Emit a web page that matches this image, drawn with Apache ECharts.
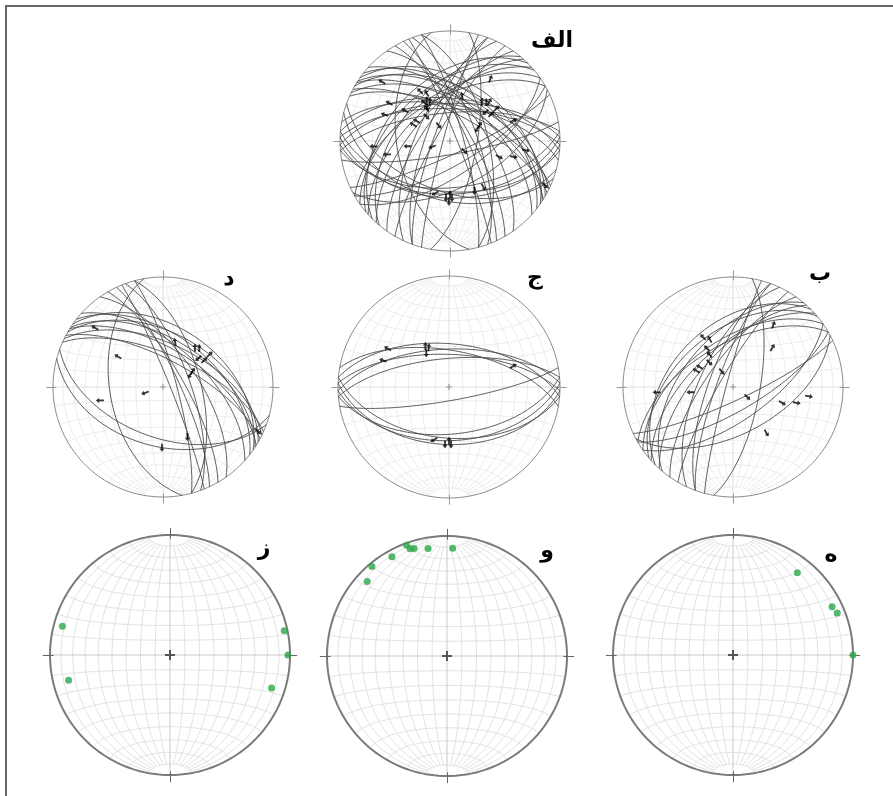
<!DOCTYPE html>
<html>
<head>
<meta charset="utf-8">
<script src="https://cdn.jsdelivr.net/npm/echarts@6/dist/echarts.min.js"></script>
<style>
  html, body { margin: 0; padding: 0; background: #fff; }
  #main { width: 893px; height: 796px; }
</style>
</head>
<body>
<div id="main"></div>
<script>
// fault planes [strike (right hand rule), dip]
var planesB = [[225,43],[230,48],[220,52],[235,55],[228,60],[222,64],[240,58],[215,70],[210,80],[200,72],[200,78],[205,65],[195,85],[10,70],[65,80],[60,72],[55,65],[62,55]];
var planesJ = [[275,58],[268,62],[272,66],[265,69],[280,63],[88,50],[95,52],[85,55],[92,47],[80,80]];
var planesD = [[300,50],[303,55],[296,58],[308,52],[302,62],[294,66],[312,60],[298,70],[305,45],[340,70],[345,62],[335,78],[330,75],[338,85],[345,80],[325,65],[170,50],[105,45],[110,52]];

// slip lineations [trend, plunge, slip sense azimuth]
var arrowsB = [[329,46,315],[334,50,330],[326,55,315],[324,60,320],[301,61,300],[294,60,300],[316,65,135],[324,76,140],[33,33,20],[45,48,30],[266,31,270],[263,58,270],[125,77,135],[108,51,120],[104,40,100],[97,31,100],[144,47,150]];
var arrowsJ = [[302,35,300],[292,36,290],[330,55,0],[333,57,5],[326,60,180],[72,39,60],[196,49,240],[184,47,180],[178,47,180],[180,50,0]];
var arrowsD = [[311,19,300],[304,49,300],[15,55,350],[39,52,0],[43,50,0],[55,47,45],[51,56,230],[57,53,45],[62,65,30],[66,68,210],[252,76,250],[258,41,270],[154,48,180],[181,44,180],[115,5,135]];

// stress axes [trend, plunge]
var pointsZ = [[285,8],[256,14],[78,3],[90,2],[108,12]];
var pointsW = [[313,10],[320,3],[331,6],[340,2],[341,6],[343,7],[350,10],[3,11]];
var pointsH = [[38,14],[64,9],[68,7],[90,0]];

var RAD = Math.PI / 180;

// lower hemisphere equal-area projection of a unit vector (east, north, down)
function project(e, n, d) {
  var k = 1 / Math.sqrt(1 + d);
  return [e * k, n * k];
}
function lineXY(trend, plunge) {
  var t = trend * RAD, p = plunge * RAD;
  return project(Math.cos(p) * Math.sin(t), Math.cos(p) * Math.cos(t), Math.sin(p));
}
function greatCircle(strike, dip, r0, r1) {
  r0 = r0 == null ? 0 : r0; r1 = r1 == null ? 180 : r1;
  var s = strike * RAD, d = dip * RAD;
  var S = [Math.sin(s), Math.cos(s), 0];
  var D = [Math.cos(d) * Math.cos(s), -Math.cos(d) * Math.sin(s), Math.sin(d)];
  var pts = [];
  for (var r = r0; r <= r1 + 1e-9; r += 2) {
    var c = Math.cos(r * RAD), sn = Math.sin(r * RAD);
    pts.push(project(c * S[0] + sn * D[0], c * S[1] + sn * D[1], Math.max(0, sn * D[2])));
  }
  return pts;
}
function smallCircleNS(a) {
  var pts = [];
  for (var f = 0; f <= 180; f += 2) {
    var sa = Math.sin(a * RAD);
    pts.push(project(sa * Math.cos(f * RAD), Math.cos(a * RAD), sa * Math.sin(f * RAD)));
  }
  return pts;
}
function primitive() {
  var pts = [];
  for (var t = 0; t <= 360; t += 2) pts.push(lineXY(t, 0));
  return pts;
}
function netLines() {
  var out = [];
  for (var dip = 10; dip < 90; dip += 10) {
    out.push(greatCircle(0, dip, 10, 170));
    out.push(greatCircle(180, dip, 10, 170));
  }
  for (var a = 10; a < 180; a += 10) if (a !== 90) out.push(smallCircleNS(a));
  return out;
}
function tickLines() {
  var out = [];
  [0, 90, 180, 270].forEach(function (t) {
    var s = Math.sin(t * RAD), c = Math.cos(t * RAD);
    out.push([[0.97 * s, 0.97 * c], [1.06 * s, 1.06 * c]]);
  });
  return out;
}

var nets = [
  {cx: 450, cy: 141, r: 110, label: 'الف', lx: 552, ly: 41, planes: planesB.concat(planesJ, planesD), arrows: arrowsB.concat(arrowsJ, arrowsD)},
  {cx: 163, cy: 387, r: 110, label: 'د', lx: 229, ly: 279, planes: planesD, arrows: arrowsD},
  {cx: 449, cy: 387, r: 111, label: 'ج', lx: 535, ly: 278, planes: planesJ, arrows: arrowsJ},
  {cx: 733, cy: 387, r: 110, label: 'ب', lx: 820, ly: 274, planes: planesB, arrows: arrowsB},
  {cx: 170, cy: 655, r: 120, label: 'ز', lx: 264, ly: 549, points: pointsZ},
  {cx: 447, cy: 656, r: 120, label: 'و', lx: 547, ly: 551, points: pointsW},
  {cx: 733, cy: 655, r: 120, label: 'ه', lx: 831, ly: 555, points: pointsH}
];

var grids = [], xAxes = [], yAxes = [], series = [], texts = [];
var gridData = netLines().map(function (c) { return {coords: c}; });
var axisData = [{coords: greatCircle(0, 90)}, {coords: smallCircleNS(90)}];
var plusPath = 'path://M4,0h2v10h-2zM0,4h10v2h-10z';
var arrowPath = 'path://M5,0L10,5H6.8V12H3.2V5H0Z';

nets.forEach(function (n, i) {
  var pole = !!n.points;
  grids.push({left: n.cx - 1.1 * n.r, top: n.cy - 1.1 * n.r, width: 2.2 * n.r, height: 2.2 * n.r});
  xAxes.push({gridIndex: i, type: 'value', min: -1.1, max: 1.1, show: false});
  yAxes.push({gridIndex: i, type: 'value', min: -1.1, max: 1.1, show: false});
  var base = {type: 'lines', coordinateSystem: 'cartesian2d', xAxisIndex: i, yAxisIndex: i, polyline: true, silent: true, animation: false};

  series.push(Object.assign({}, base, {z: 1, data: gridData,
    lineStyle: {color: pole ? '#e2e2e2' : '#ececec', width: 1, opacity: 1}}));
  series.push(Object.assign({}, base, {z: 2, data: axisData,
    lineStyle: {color: pole ? '#c8c8c8' : '#dcdcdc', width: 1, opacity: 1}}));
  series.push(Object.assign({}, base, {z: 3, data: [{coords: primitive()}],
    lineStyle: {color: pole ? '#7a7a7a' : '#8a8a8a', width: pole ? 2 : 1, opacity: 1}}));
  series.push(Object.assign({}, base, {z: 3, polyline: false, data: tickLines().map(function (c) { return {coords: c}; }),
    lineStyle: {color: pole ? '#666' : '#999', width: 1, opacity: 1}}));
  series.push({type: 'scatter', xAxisIndex: i, yAxisIndex: i, z: 4, silent: true, animation: false,
    symbol: plusPath, symbolSize: pole ? 10 : 6, itemStyle: {color: pole ? '#333' : '#888'},
    data: [lineXY(0, 90)]});

  if (pole) {
    series.push({type: 'scatter', xAxisIndex: i, yAxisIndex: i, z: 6, silent: true, animation: false,
      symbolSize: 7, itemStyle: {color: '#2ca64a'},
      data: n.points.map(function (p) { return lineXY(p[0], p[1]); })});
  } else {
    series.push(Object.assign({}, base, {z: 5,
      data: n.planes.map(function (p) { return {coords: greatCircle(p[0], p[1])}; }),
      lineStyle: {color: '#4a4a4a', width: 0.9, opacity: 1}}));
    series.push({type: 'scatter', xAxisIndex: i, yAxisIndex: i, z: 6, silent: true, animation: false,
      symbol: arrowPath, symbolSize: [5, 8], itemStyle: {color: '#000'},
      data: n.arrows.map(function (a) { return {value: lineXY(a[0], a[1]), symbolRotate: -a[2]}; })});
  }

  texts.push({type: 'text', x: n.lx, y: n.ly, z: 10,
    style: {text: n.label, fill: '#000', font: 'bold 22px "DejaVu Sans"', align: 'center', verticalAlign: 'middle'}});
});

texts.push({type: 'polyline', z: 10, shape: {points: [[6, 796], [6, 6], [893, 6]]},
  style: {stroke: '#666', lineWidth: 2, fill: null}});

var myChart = echarts.init(document.getElementById('main'));
myChart.setOption({
  backgroundColor: '#fff',
  animation: false,
  grid: grids,
  xAxis: xAxes,
  yAxis: yAxes,
  series: series,
  graphic: texts
});
</script>
</body>
</html>
